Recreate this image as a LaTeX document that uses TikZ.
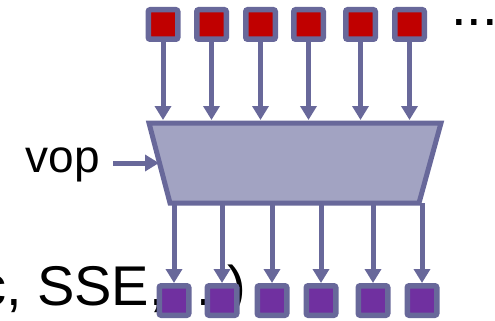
\documentclass[tikz,border=0pt]{standalone}
\usepackage{fontspec}
\setmainfont{Liberation Sans}
\usepackage{xcolor}
\usepackage{tikz}
\usetikzlibrary{arrows.meta}
\usetikzlibrary{positioning}
\definecolor{laneblue}{RGB}{104,104,154}
\definecolor{unitfill}{RGB}{162,163,194}
\definecolor{inred}{RGB}{192,0,0}
\definecolor{outpurple}{RGB}{112,48,160}

\begin{document}
\begin{tikzpicture}[x=1pt,y=-1pt,>={Triangle[width=16pt,length=14pt]},node distance=14pt]
				\tikzstyle{cell}=[draw=laneblue, line width=5.5pt, rounded corners=2pt, minimum size=29.5pt, inner sep=0pt]
				\tikzstyle{src}=[cell, fill=inred]
				\tikzstyle{dst}=[cell, fill=outpurple]
				\tikzstyle{link}=[->, draw=laneblue, line width=5pt]
				\tikzstyle{big}=[inner sep=0pt, font=\fontsize{56}{60}\selectfont]
				\useasboundingbox (0,0) rectangle (495,321);
				% text behind the outputs
				\node[big, anchor=base west] (note) at (-22,305) {c, SSE, ...)};
				% input lanes
					\node[src]		(t1) at (163,24.5)		{};
					\node[src]		(t2) [right=13.5pt of t1]	{};
					\node[src]		(t3) [right=14pt of t2]	{};
					\node[src]		(t4) [right=13pt of t3]	{};
					\node[src]		(t5) [right=17pt of t4]	{};
					\node[src]		(t6) [right=14pt of t5]	{};
					\node[big, anchor=base west] (more) at (451,25.5) {...};
				% output lanes
					\node[dst]		(b1) at (174,300.5)		{};
					\node[dst]		(b2) [right=13pt of b1]	{};
					\node[dst]		(b3) [right=15pt of b2]	{};
					\node[dst]		(b4) [right=14pt of b3]	{};
					\node[dst]		(b5) [right=17pt of b4]	{};
					\node[dst]		(b6) [right=14pt of b5]	{};
				% the vector unit
					\coordinate (tl) at (149,123);
					\coordinate (tr) at (441,123);
					\coordinate (br) at (419,203);
					\coordinate (bl) at (170,203);
					\coordinate (vin) at (159,163);
					\draw[draw=laneblue, fill=unitfill, line width=5pt] (tl) -- (tr) -- (br) -- (bl) -- cycle;
					\node[anchor=base east, inner sep=0pt, font=\fontsize{46}{50}\selectfont] (vop) at (100,172) {vop};
					\path
						(vop.east |- vin) edge[link, shorten <=13pt] (vin)
						(t1) edge[link, shorten >=3pt] (t1 |- tl)
						(t2) edge[link, shorten >=3pt] (t2 |- tl)
						(t3) edge[link, shorten >=3pt] (t3 |- tl)
						(t4) edge[link, shorten >=3pt] (t4 |- tl)
						(t5) edge[link, shorten >=3pt] (t5 |- tl)
						(t6) edge[link, shorten >=3pt] (t6 |- tl)
						(b1 |- bl) edge[link] (b1)
						(b2 |- bl) edge[link] (b2)
						(b3 |- bl) edge[link] (b3)
						(b4 |- bl) edge[link] (b4)
						(b5 |- bl) edge[link] (b5)
						(b6 |- bl) edge[link] (b6);
				\end{tikzpicture}
\end{document}
